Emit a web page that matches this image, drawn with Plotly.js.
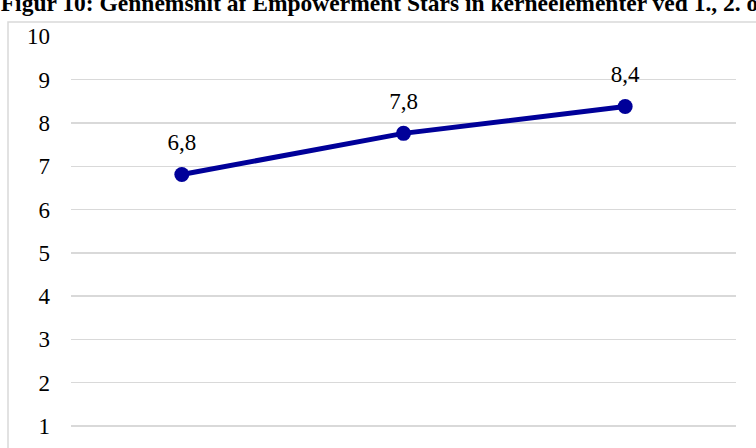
<!DOCTYPE html>
<html>
<head>
<meta charset="utf-8">
<script src="https://cdn.plot.ly/plotly-3.0.1.min.js"></script>
<style>html,body{margin:0;padding:0;background:#fff}#chart{width:756px;height:448px}</style>
</head>
<body>
<div id="chart"></div>
<script>
const categories = ["1. måling", "2. måling", "3. måling"];
const values = [6.81, 7.76, 8.38];
const yTicks = [1, 2, 3, 4, 5, 6, 7, 8, 9, 10];
const titleText = "Figur 10: Gennemsnit af Empowerment Stars in kerneelementer ved 1., 2. og 3. måling";
const serif = '"Liberation Serif", "Times New Roman", Times, serif';

const lineTrace = {
  x: categories,
  y: values,
  type: 'scatter',
  mode: 'lines+markers',
  line: {color: '#000099', width: 5},
  marker: {color: '#000099', size: 15},
  hoverinfo: 'skip'
};

const labelTrace = {
  x: categories,
  y: values,
  type: 'scatter',
  mode: 'markers+text',
  marker: {color: 'rgba(0,0,0,0)', size: 28},
  texttemplate: '%{y:.1f}',
  textposition: 'top center',
  textfont: {family: serif, size: 23, color: '#000'},
  cliponaxis: false,
  hoverinfo: 'skip'
};

const layout = {
  width: 756, height: 448,
  margin: {l: 71, r: 20, t: 36, b: 0},
  separators: ',.',
  paper_bgcolor: '#fff', plot_bgcolor: '#fff',
  showlegend: false,
  font: {family: serif},
  title: {
    text: '<b>' + titleText + '</b>',
    font: {family: serif, size: 23.5, color: '#000'},
    xref: 'container', yref: 'container',
    x: 0.001, xanchor: 'left',
    y: 1 - 3 / 448, yanchor: 'middle'
  },
  xaxis: {
    type: 'category',
    range: [-0.5, 2.5],
    showgrid: false, zeroline: false, showline: false,
    showticklabels: false, ticks: ''
  },
  yaxis: {
    range: [0.49, 10.01],
    tickvals: yTicks,
    ticktext: yTicks.map(String),
    showgrid: true, gridcolor: '#d9d9d9', gridwidth: 1.5,
    zeroline: false, showline: false, ticks: '',
    ticklabelstandoff: 20,
    tickfont: {family: serif, size: 23, color: '#000'}
  },
  shapes: [{
    type: 'rect', xref: 'paper', yref: 'paper',
    x0: (8 - 71) / 665, x1: 1.2,
    y0: -0.2, y1: (448 - 22) / 412,
    line: {color: '#d9d9d9', width: 1.5},
    fillcolor: 'rgba(0,0,0,0)',
    layer: 'below'
  }]
};

Plotly.newPlot('chart', [lineTrace, labelTrace], layout, {displayModeBar: false, staticPlot: true});
</script>
</body>
</html>
